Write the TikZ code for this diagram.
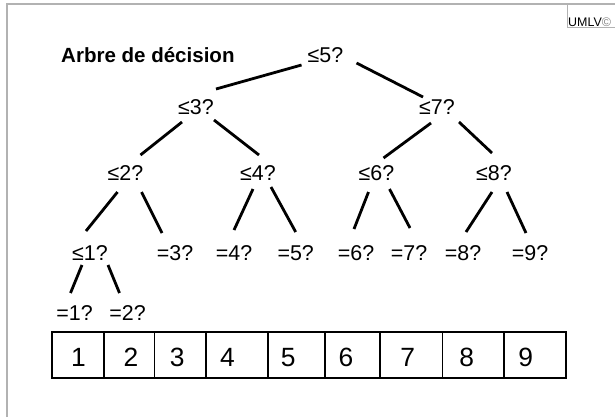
\documentclass[tikz,border=0pt]{standalone}
\usepackage{fontspec}
\setmainfont{Liberation Sans}
\usetikzlibrary{calc}

\def\arete#1(#2)#3(#4){%
  \draw[branche] ($(#1)+(#2)$) -- ($(#3)+(#4)$);%
}

\begin{document}
\begin{tikzpicture}[x=1bp,y=-1bp,
    question/.style={inner sep=0pt,text height=15.4bp,text depth=0pt,font=\fontsize{21.5}{24}\selectfont},
    branche/.style={line width=2.8bp},
    cellule/.style={line width=1.8bp},
    chiffre/.style={inner sep=0pt,text height=19bp,text depth=0pt,font=\fontsize{26.5}{30}\selectfont}]
    \useasboundingbox (0,0) rectangle (615,417);
    % Cadre
    \draw[gray!60,line width=1.3bp] (7,417) -- (7,4) -- (615,4);
    \draw[gray!60,line width=0.8bp] (567,4) -- (567,27.5) -- (615,27.5);
    \node[anchor=south west,inner sep=0pt,font=\fontsize{12.5}{14}\selectfont] (umlv) at (568,26.5) {UMLV{\color{gray}\textcopyright}};
    % Titre
    \node[anchor=west,inner sep=0pt,font=\bfseries\fontsize{20.6}{24}\selectfont] (titre) at (61,55) {Arbre de décision};

    % Arbre
    \node[question] (q5) at (325.5,55) {≤5?};
    \node[question] (q3) at (196,107) {≤3?};
    \node[question] (q7) at (437,107) {≤7?};
    \node[question] (q2) at (125.5,173) {≤2?};
    \node[question] (q4) at (258,173) {≤4?};
    \node[question] (q6) at (376.5,173) {≤6?};
    \node[question] (q8) at (494,173) {≤8?};
    \node[question] (q1) at (90,253) {≤1?};
    \node[question] (e3) at (175,253) {=3?};
    \node[question] (e4) at (234,253) {=4?};
    \node[question] (e5) at (295.7,253) {=5?};
    \node[question] (e6) at (356,253) {=6?};
    \node[question] (e7) at (409,253) {=7?};
    \node[question] (e8) at (463,253) {=8?};
    \node[question] (e9) at (530,253) {=9?};
    \node[question] (e1) at (74.5,313) {=1?};
    \node[question] (e2) at (127.5,313) {=2?};

    \arete q5(-24,10) q3(20,-18)
    \arete q5(31,8) q7(-14,-10)
    \arete q3(-14,15) q2(15,-18)
    \arete q3(18,13) q4(1,-18)
    \arete q7(-6,16) q6(7,-15)
    \arete q7(22,15) q8(-2,-20)
    \arete q2(-8,19) q1(-4,-22)
    \arete q2(16,19) e3(-13,-20)
    \arete q4(-5,16) e4(0,-23)
    \arete q4(13,14) e5(0,-21)
    \arete q6(-8,19) e6(-2,-24)
    \arete q6(13,16) e7(1,-25)
    \arete q8(-2,19) e8(3,-21)
    \arete q8(13,19) e9(-4,-20)
    \arete q1(-8,12) e1(-4,-20)
    \arete q1(18,12) e2(-8,-20)

    % Tableau
    \draw[cellule] (51.7,331.7) rectangle (565.7,378.3);
    \foreach \x in {103.9,154.5,205.9,268.3,324.8,380.1,442.5,504.1}
      \draw[cellule] (\x,331.7) -- (\x,378.3);
    \foreach \x/\v in {78.4/1,131/2,177.3/3,227.5/4,288.2/5,345.9/6,407.8/7,466.7/8,525.6/9}
      \node[chiffre] (d\v) at (\x,357) {\v};
\end{tikzpicture}
\end{document}
